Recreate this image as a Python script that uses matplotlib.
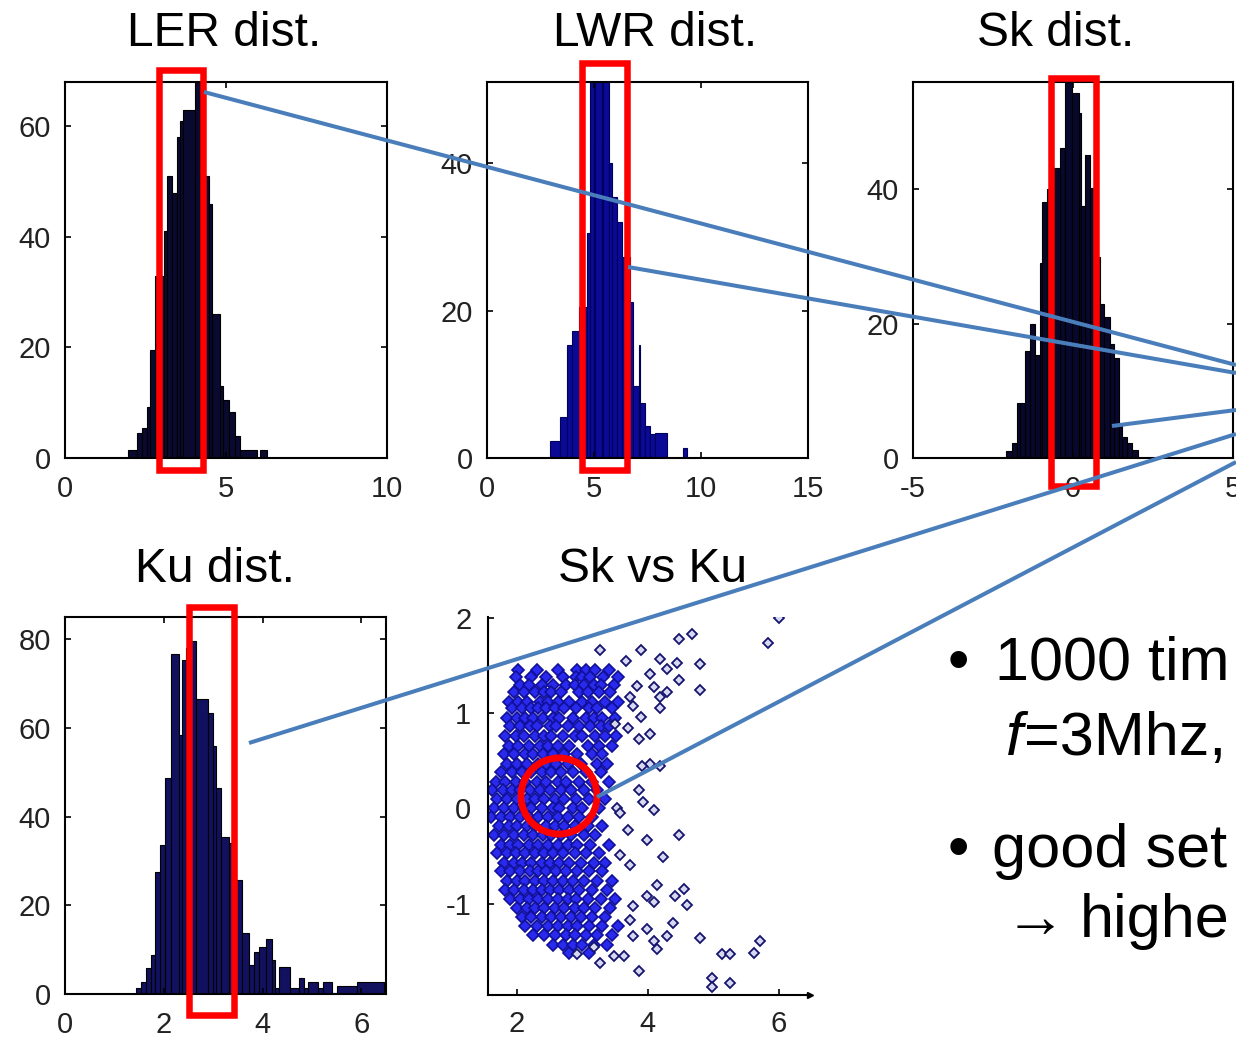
import numpy as np
import matplotlib
matplotlib.use("Agg")
import matplotlib.pyplot as plt
from matplotlib.patches import Rectangle, Circle

W, H = 1236, 1039
plt.rcParams['font.family'] = ['Liberation Sans', 'DejaVu Sans']
plt.rcParams['axes.unicode_minus'] = False

# histogram data (bin edges, counts)
ler_edges = [1.97, 2.23, 2.38, 2.54, 2.64, 2.80, 3.06, 3.16, 3.32, 3.47, 3.58, 3.68,
             4.04, 4.20, 4.46, 4.56, 4.82, 4.92, 5.08, 5.28, 5.44, 5.96, 6.06, 6.27]
ler_counts = [1.5, 4.5, 5.4, 9.3, 19.5, 33, 41, 51, 48, 58, 61, 63, 70, 51, 46, 26,
              13, 10.5, 8.4, 4, 1.5, 0, 1.5]

lwr_edges = [2.95, 3.42, 3.73, 3.97, 4.28, 4.67, 4.82, 4.98, 5.05, 5.37, 5.44, 5.68,
             5.83, 6.07, 6.30, 6.69, 6.84, 7.08, 7.15, 7.39, 7.62, 7.85, 8.40, 9.18, 9.33]
lwr_counts = [2.3, 5.5, 15.3, 17.2, 20.5, 30.5, 55, 43, 55, 42.4, 55, 40, 35.4, 32,
              27.3, 21.2, 9.7, 15.3, 7.4, 4.3, 3.2, 3.4, 0, 1.4]

sk_edges = [-2.08, -1.91, -1.75, -1.65, -1.49, -1.33, -1.18, -1.04, -0.97, -0.81, -0.60,
            -0.40, -0.24, -0.03, 0.18, 0.25, 0.36, 0.52, 0.65, 0.83, 0.98, 1.15, 1.27,
            1.43, 1.53, 1.69, 1.84, 2.02]
sk_counts = [1, 2.2, 8.2, 8.2, 16, 20, 15.4, 29, 38.2, 40, 43.2, 46.2, 58, 54.3, 51.4,
             37.5, 45.2, 40.2, 30, 23, 21, 17, 14.9, 4.7, 3.2, 2.2, 1.2]

ku_edges = [1.44, 1.54, 1.64, 1.74, 1.83, 1.93, 2.03, 2.15, 2.30, 2.37, 2.45, 2.55, 2.66,
            2.89, 2.99, 3.05, 3.15, 3.32, 3.46, 3.59, 3.72, 3.83, 3.93, 4.06, 4.19, 4.26,
            4.33, 4.56, 4.73, 4.83, 4.93, 5.13, 5.23, 5.40, 5.50, 5.91, 6.46]
ku_counts = [1.3, 2.8, 5.8, 8.8, 27.6, 33.6, 48.6, 76.6, 58.4, 75.4, 78, 79.6, 66.4, 63.3,
             56, 46.4, 35.5, 34, 25.7, 13.7, 6.5, 9.5, 10.7, 12.5, 7.7, 1.3, 6.2, 1.3, 3.5,
             1.3, 2.8, 1.3, 2.8, 0.2, 1.7, 2.8]

# scatter: dense core read row by row (Sk value: Ku values)
core_rows = [
    (1.45, [2.02, 2.30, 2.62, 2.92, 3.05, 3.20, 3.40]),
    (1.38, [1.98, 2.22, 2.45, 2.70, 2.90, 3.00, 3.12, 3.32, 3.55]),
    (1.30, [2.05, 2.18, 2.38, 2.55, 2.75, 2.88, 3.02, 3.18, 3.28, 3.48]),
    (1.22, [1.95, 2.10, 2.28, 2.42, 2.52, 2.68, 2.95, 3.08, 3.25, 3.42]),
    (1.12, [1.88, 2.02, 2.15, 2.35, 2.48, 2.62, 2.80, 3.00, 3.15, 3.35, 3.55]),
    (1.05, [1.92, 2.08, 2.22, 2.32, 2.45, 2.58, 2.72, 2.90, 3.10, 3.22, 3.45]),
    (0.95, [1.85, 2.00, 2.12, 2.25, 2.40, 2.55, 2.65, 2.85, 3.05, 3.18, 3.30, 3.50]),
    (0.86, [1.90, 2.05, 2.20, 2.30, 2.50, 2.60, 2.78, 2.95, 3.12, 3.28, 3.40]),
    (0.76, [1.82, 1.98, 2.10, 2.28, 2.42, 2.52, 2.70, 2.88, 3.00, 3.20, 3.35, 3.52]),
    (0.66, [1.88, 2.02, 2.18, 2.35, 2.48, 2.62, 2.80, 3.08, 3.25, 3.45]),
    (0.57, [1.80, 1.95, 2.12, 2.25, 2.40, 2.55, 2.72, 2.92, 3.15, 3.30]),
    (0.47, [1.85, 2.00, 2.15, 2.32, 2.45, 2.60, 2.78, 2.98, 3.22, 3.38]),
    (0.38, [1.75, 1.92, 2.08, 2.22, 2.38, 2.52, 2.68, 2.85, 3.05, 3.28]),
    (0.28, [1.68, 1.82, 1.98, 2.12, 2.30, 2.45, 2.62, 2.75, 2.95, 3.15, 3.40]),
    (0.19, [1.62, 1.78, 1.92, 2.05, 2.20, 2.35, 2.50, 2.68, 2.82, 3.02, 3.22]),
    (0.10, [1.70, 1.85, 2.00, 2.15, 2.28, 2.42, 2.58, 2.72, 2.90, 3.10, 3.35]),
    (0.00, [1.65, 1.80, 1.95, 2.10, 2.22, 2.38, 2.55, 2.65, 2.85, 3.00, 3.25]),
    (-0.09, [1.60, 1.75, 1.90, 2.05, 2.18, 2.32, 2.48, 2.62, 2.78, 2.95, 3.15]),
    (-0.19, [1.72, 1.88, 2.00, 2.15, 2.28, 2.45, 2.58, 2.72, 2.88, 3.08, 3.30]),
    (-0.28, [1.65, 1.80, 1.95, 2.10, 2.25, 2.40, 2.52, 2.68, 2.82, 3.02, 3.20]),
    (-0.38, [1.75, 1.90, 2.02, 2.18, 2.32, 2.48, 2.62, 2.78, 2.92, 3.12, 3.40]),
    (-0.47, [1.70, 1.85, 1.98, 2.12, 2.28, 2.42, 2.55, 2.70, 2.88, 3.05, 3.25]),
    (-0.57, [1.80, 1.95, 2.08, 2.22, 2.38, 2.50, 2.65, 2.80, 2.98, 3.18, 3.35]),
    (-0.66, [1.75, 1.90, 2.05, 2.20, 2.32, 2.45, 2.60, 2.75, 2.92, 3.10, 3.30]),
    (-0.76, [1.85, 2.00, 2.12, 2.28, 2.42, 2.55, 2.70, 2.85, 3.02, 3.22, 3.45]),
    (-0.86, [1.82, 1.95, 2.10, 2.25, 2.38, 2.50, 2.65, 2.80, 2.95, 3.15, 3.38]),
    (-0.95, [1.90, 2.05, 2.18, 2.32, 2.48, 2.62, 2.78, 2.90, 3.08, 3.28, 3.50]),
    (-1.05, [2.00, 2.15, 2.28, 2.42, 2.58, 2.72, 2.88, 3.02, 3.20, 3.42]),
    (-1.14, [2.08, 2.22, 2.38, 2.52, 2.68, 2.82, 2.98, 3.15, 3.35]),
    (-1.24, [2.12, 2.30, 2.48, 2.62, 2.78, 2.92, 3.10, 3.30, 3.55]),
    (-1.33, [2.25, 2.42, 2.58, 2.75, 2.88, 3.05, 3.22, 3.45]),
    (-1.43, [2.55, 2.70, 2.85, 3.00, 3.18, 3.38]),
    (-1.52, [2.80, 3.10]),
]
# scattered outliers (Ku, Sk)
out_ku = [6.00, 5.84, 4.68, 4.47, 4.80, 4.80, 4.47, 4.45, 4.29, 4.19, 3.89, 3.66, 3.27,
          4.04, 4.09, 4.19, 4.29, 3.84, 3.73, 3.78, 4.19, 3.89, 4.04, 3.86, 3.50, 3.70,
          4.04, 3.91, 4.19, 3.86, 3.93, 4.09, 3.53, 3.58, 3.70, 3.99, 4.47, 4.24, 3.73,
          3.58, 4.14, 3.99, 4.09, 4.42, 4.55, 4.60, 3.78, 3.73, 3.99, 4.09, 4.14, 4.29,
          4.39, 3.78, 3.63, 3.86, 3.48, 3.27, 2.92, 3.17, 4.80, 4.98, 4.98, 5.13, 5.26,
          5.26, 5.62, 5.72]
out_sk = [2.00, 1.74, 1.83, 1.78, 1.52, 1.24, 1.35, 1.53, 1.46, 1.57, 1.66, 1.55, 1.66,
          1.41, 1.27, 1.17, 1.22, 1.29, 1.17, 1.08, 1.05, 0.96, 0.78, 0.73, 0.89, 0.84,
          0.47, 0.45, 0.45, 0.19, 0.07, -0.02, 0.00, -0.05, -0.23, -0.33, -0.28, -0.51,
          -0.59, -0.49, -0.80, -0.92, -0.98, -0.92, -0.85, -1.01, -1.03, -1.17, -1.27,
          -1.39, -1.48, -1.34, -1.20, -1.34, -1.55, -1.71, -1.55, -1.62, -1.53, -1.46,
          -1.36, -1.78, -1.88, -1.53, -1.53, -1.83, -1.52, -1.39]

titles = ["LER dist.", "LWR dist.", "Sk dist.", "Ku dist.", "Sk vs Ku"]


def px_axes(fig, l, t, r, b):
    return fig.add_axes([l / W, 1 - b / H, (r - l) / W, (b - t) / H])


def draw_hist(ax, edges, counts, face, edge, xlim, ylim, xticks, yticks):
    edges = np.array(edges)
    ax.bar(edges[:-1], counts, width=np.diff(edges), align='edge',
           color=face, edgecolor=edge, linewidth=0.8)
    ax.set_xlim(xlim)
    ax.set_ylim(ylim)
    ax.set_xticks(xticks)
    ax.set_yticks(yticks)
    ax.tick_params(direction='in', top=True, right=True, length=4, width=1.2,
                   labelsize=21, labelcolor='#222222')
    ax.tick_params(axis='y', pad=10)
    ax.tick_params(axis='x', pad=12)
    for s in ax.spines.values():
        s.set_linewidth(1.5)


fig = plt.figure(figsize=(W / 100, H / 100), dpi=100)

ax1 = px_axes(fig, 65, 82, 387, 458)
draw_hist(ax1, ler_edges, ler_counts, '#0a0a30', 'black', (0, 10), (0, 68), [0, 5, 10], [0, 20, 40, 60])
ax2 = px_axes(fig, 487, 82, 808, 458)
draw_hist(ax2, lwr_edges, lwr_counts, '#0a0a96', '#00005a', (0, 15), (0, 51), [0, 5, 10, 15], [0, 20, 40])
ax3 = px_axes(fig, 913, 82, 1233, 458)
draw_hist(ax3, sk_edges, sk_counts, '#08082c', 'black', (-5, 5), (0, 56), [-5, 0, 5], [0, 20, 40])
ax4 = px_axes(fig, 65, 617, 386, 994)
draw_hist(ax4, ku_edges, ku_counts, '#111160', 'black', (0, 6.5), (0, 85), [0, 2, 4, 6], [0, 20, 40, 60, 80])

# scatter Sk vs Ku
ax5 = px_axes(fig, 488, 617, 810, 995)
core_ku = [x for y, xs in core_rows for x in xs]
core_sk = [y for y, xs in core_rows for x in xs]
ax5.plot(core_ku, core_sk, linestyle='none', marker='D', ms=6,
         mfc='#2a2aee', mec='#10109a', mew=1.2)
ax5.plot(out_ku, out_sk, linestyle='none', marker='D', ms=5,
         mfc='#d8d8f0', mec='#14146e', mew=1.3)
ax5.set_xlim(1.557, 6.48)
ax5.set_ylim(-1.96, 2.01)
ax5.set_xticks([2, 4, 6])
ax5.set_yticks([-1, 0, 1, 2])
ax5.spines['top'].set_visible(False)
ax5.spines['right'].set_visible(False)
ax5.spines['left'].set_linewidth(1.5)
ax5.spines['bottom'].set_linewidth(1.5)
ax5.tick_params(direction='in', length=4, width=1.2, labelsize=21, labelcolor='#222222')
ax5.tick_params(axis='y', pad=12)
ax5.tick_params(axis='x', pad=11)
ax5.plot([1], [0], marker='>', ms=5, color='black', transform=ax5.transAxes, clip_on=False)

# overlay in pixel coordinates for titles, highlight boxes, connectors and bullet text
ov = fig.add_axes([0, 0, 1, 1], zorder=10)
ov.set_xlim(0, W)
ov.set_ylim(H, 0)
ov.axis('off')
ov.patch.set_alpha(0)

title_pos = [(224, 46), (655, 46), (1056, 46), (215, 582), (653, 582)]
for t, (x, y) in zip(titles, title_pos):
    ov.text(x, y, t, ha='center', va='baseline', fontsize=34.5, color='black')

red_boxes = [(159, 70, 203, 470), (582, 63, 627, 470), (1051, 77.5, 1096, 486), (189, 607, 234, 1014.5)]
for l, t, r, b in red_boxes:
    ov.add_patch(Rectangle((l, t), r - l, b - t, fill=False, ec='#ff0000', lw=4.7))
ov.add_patch(Circle((559, 796), 38, fill=False, ec='#ff0000', lw=5))

connectors = [((204, 92), (1236, 365)), ((628, 267), (1236, 373)), ((1112, 426), (1236, 410)),
              ((249, 743), (1236, 434)), ((597, 797), (1236, 462))]
for (x0, y0), (x1, y1) in connectors:
    ov.plot([x0, x1], [y0, y1], color='#4a7ebb', lw=2.9, solid_capstyle='butt')

fs = 44
ov.text(948, 680, "\u2022", fontsize=fs, va='baseline', ha='left')
ov.text(995, 680, "1000 tim", fontsize=fs, va='baseline', ha='left')
ov.text(1006, 755, "f", fontsize=fs, style='italic', va='baseline', ha='left')
ov.text(1024, 755, "=3Mhz,", fontsize=fs, va='baseline', ha='left')
ov.text(948, 867, "\u2022", fontsize=fs, va='baseline', ha='left')
ov.text(992, 867, "good set", fontsize=fs, va='baseline', ha='left')
ov.text(1005, 937, "\u2192", fontsize=fs, va='baseline', ha='left')
ov.text(1080, 937, "highe", fontsize=fs, va='baseline', ha='left')

fig.savefig("out.png", dpi=100)
